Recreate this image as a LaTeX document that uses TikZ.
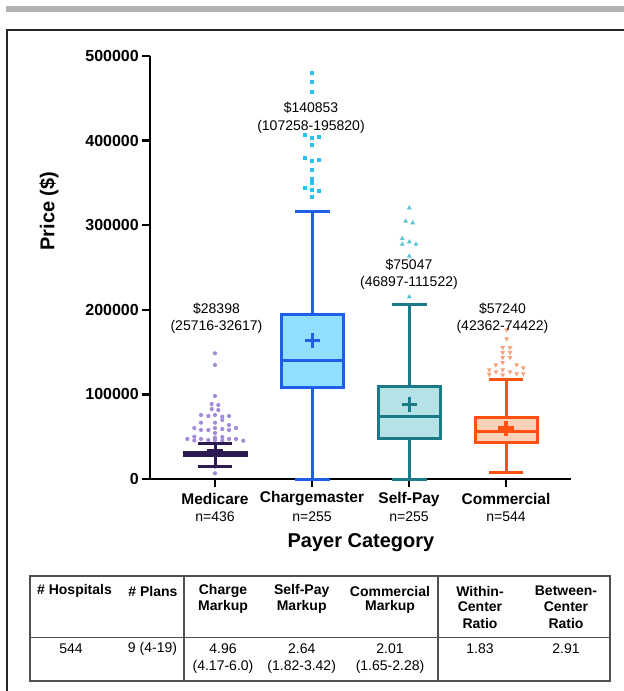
\documentclass[tikz,border=0pt]{standalone}
\usepackage{fontspec}
\setmainfont{Liberation Sans}
\definecolor{medi}{HTML}{2E1A52}
\definecolor{medidot}{HTML}{A38BD8}
\definecolor{cmline}{HTML}{1F5FE8}
\definecolor{cmfill}{HTML}{8FE0FF}
\definecolor{cmdot}{HTML}{29C0F5}
\definecolor{spline}{HTML}{1B7A88}
\definecolor{spfill}{HTML}{B5E2E6}
\definecolor{spdot}{HTML}{5BC3CF}
\definecolor{coline}{HTML}{FF5212}
\definecolor{cofill}{HTML}{FDD0B8}
\definecolor{codot}{HTML}{F9A07C}
\definecolor{tabline}{HTML}{505050}
\begin{document}
\begin{tikzpicture}[x=1pt,y=-1pt,
  ticklab/.style={font=\bfseries\fontsize{16}{19}\selectfont, anchor=east, inner sep=0},
  catlab/.style={font=\bfseries\fontsize{15.5}{18}\selectfont, inner sep=0},
  nlab/.style={font=\fontsize{14}{16}\selectfont, inner sep=0},
  annot/.style={font=\fontsize{14}{16}\selectfont, inner sep=0},
  axlab/.style={font=\bfseries\fontsize{20}{24}\selectfont, inner sep=0},
  th/.style={font=\bfseries\fontsize{14}{16}\selectfont, inner sep=0},
  td/.style={font=\fontsize{14}{16}\selectfont, inner sep=0},
  bx/.style={line width=3pt},
]
\useasboundingbox (0,0) rectangle (624,691);
% top gray bar and frame
\fill[black!30] (6,6) rectangle (624,12);
\draw[line width=2pt, black!85] (624,30) -- (7,30) -- (7,691);

% axes
\draw[line width=2.5pt] (150,56) -- (150,479) -- (571,479);
\foreach \v/\yy in {0/479, 100000/394.4, 200000/309.8, 300000/225.2, 400000/140.6, 500000/56}{
  \draw[line width=2.5pt] (142,\yy) -- (150,\yy);
  \node[ticklab] (t\v) at (139,\yy) {\v};
}
\foreach \xx in {215,312,409,506}{
  \draw[line width=2.5pt] (\xx,479) -- (\xx,487);
}
\node[axlab, rotate=90] (ylab) at (49,211) {Price (\$)};
\node[axlab] (xlab) at (361,543) {Payer Category};

\node[catlab] (c1) at (215,499) {Medicare};
\node[catlab] (c2) at (312,499) {Chargemaster};
\node[catlab] (c3) at (409,499) {Self-Pay};
\node[catlab] (c4) at (506,499) {Commercial};
\node[nlab] (n1) at (215,517) {n=436};
\node[nlab] (n2) at (312,517) {n=255};
\node[nlab] (n3) at (409,517) {n=255};
\node[nlab] (n4) at (506,517) {n=544};

% Medicare
\foreach \px/\py in {215/353.3,215/365,215/396,211.7/404,218.3/405,211.7/409,218.3/410,
  201/415,208.3/416,215/415,222.3/416.7,229/416,222.3/420,201/422.7,215/422.7,229/425,
  194.3/428,201/430,208.3/430,215/428,222.3/429,229/430,236/428,215/433,194.3/436.7,215/437.7,222.3/437,
  187.3/439,201/439,208.3/440,215/440,229/439,236/439,243.3/440.7,194.3/440.5,222.3/440.5,215/466.7,215/473.3}{
  \fill[medidot] (\px,\py) circle (2.1);
}
\draw[medi, line width=3pt] (215,443) -- (215,466);
\draw[medi, line width=3pt] (198,443) -- (232,443);
\draw[medi, line width=3pt] (198,466) -- (232,466);
\fill[medi] (182.5,451.4) rectangle (247.5,457.2);
\draw[medi, line width=3pt] (207,450) -- (223,450);

% Chargemaster
\foreach \px/\py in {312.3/73.3,312.3/81.7,312.3/92.3,305/135,312.3/138.3,319.3/136.7,312.3/145,
  305/157.7,312.3/161,319.3/160,312.3/170,312.3/179,312.3/183.3,305/188.3,312.3/190,319.3/191,312.3/196.7}{
  \fill[cmdot] (\px-2,\py-2) rectangle (\px+2,\py+2);
}
\draw[cmline, bx] (312,211) -- (312,314);
\draw[cmline, bx] (312,387) -- (312,479);
\draw[cmline, bx] (295,211) -- (330,211);
\draw[cmline, bx] (295,479) -- (330,479);
\draw[cmline, fill=cmfill, bx] (281,314) rectangle (343,387);
\draw[cmline, bx] (281,360) -- (343,360);
\draw[cmline, bx] (304.5,340) -- (319.5,340) (312,332.5) -- (312,347.5);

% Self-Pay
\foreach \px/\py in {409.3/207.7,405.7/221,412.7/222.7,402.3/238.3,409.3/241.7,416/244,402.3/244,409.3/256,409.3/296.7}{
  \fill[spdot] (\px,\py-2.6) -- (\px+2.4,\py+1.6) -- (\px-2.4,\py+1.6) -- cycle;
}
\draw[spline, bx] (409,304) -- (409,386);
\draw[spline, bx] (409,438) -- (409,479);
\draw[spline, bx] (392,304) -- (427,304);
\draw[spline, bx] (392,479) -- (427,479);
\draw[spline, fill=spfill, bx] (378,386) rectangle (440,438);
\draw[spline, bx] (378,416) -- (440,416);
\draw[spline, bx] (401.5,404) -- (416.5,404) (409,396.5) -- (409,411.5);

% Commercial
\foreach \px/\py in {506.7/330,506.7/339,502.7/347.7,510/347.7,502.7/352.7,510/352.7,502.7/357.7,510/357.7,
  502.7/362.7,495.7/365,516.7/365,489.3/370,496/372,502.7/370,510/372,516.7/374,523.3/368,523.3/374,489.3/374.5,502.7/375}{
  \fill[codot] (\px,\py+2.6) -- (\px+2.4,\py-1.6) -- (\px-2.4,\py-1.6) -- cycle;
}
\draw[coline, bx] (506,379) -- (506,417);
\draw[coline, bx] (506,442) -- (506,472);
\draw[coline, bx] (489,379) -- (523,379);
\draw[coline, bx] (489,472) -- (523,472);
\draw[coline, fill=cofill, bx] (475,417) rectangle (537,442);
\draw[coline, bx] (475,431) -- (537,431);
\draw[coline, line width=4pt] (498,428) -- (514,428) (506,420.5) -- (506,435.5);

% annotations
\node[annot] (a1) at (216.5,309) {\$28398};
\node[annot] (a1b) at (216.5,327) {(25716-32617)};
\node[annot] (a2) at (311,108) {\$140853};
\node[annot] (a2b) at (311,127) {(107258-195820)};
\node[annot] (a3) at (409,265) {\$75047};
\node[annot] (a3b) at (409,283) {(46897-111522)};
\node[annot] (a4) at (502.5,309) {\$57240};
\node[annot] (a4b) at (502.5,327) {(42362-74422)};

% table
\draw[tabline, line width=1.5pt] (30,576) rectangle (610,681);
\draw[tabline, line width=1.5pt] (30,637.3) -- (610,637.3);
\draw[tabline, line width=1.5pt] (184,576) -- (184,681);
\draw[tabline, line width=1.5pt] (438,576) -- (438,681);

\node[th] (h1) at (74.5,591) {\# Hospitals};
\node[th] (h2) at (153,591) {\# Plans};
\node[th] (h3a) at (223,591) {Charge};
\node[th] (h3b) at (223,607) {Markup};
\node[th] (h4a) at (301.7,591) {Self-Pay};
\node[th] (h4b) at (301.7,607) {Markup};
\node[th] (h5a) at (390,591) {Commercial};
\node[th] (h5b) at (390,607) {Markup};
\node[th] (h6a) at (480,591) {Within-};
\node[th] (h6b) at (480,607) {Center};
\node[th] (h6c) at (480,623) {Ratio};
\node[th] (h7a) at (566,591) {Between-};
\node[th] (h7b) at (566,607) {Center};
\node[th] (h7c) at (566,623) {Ratio};

\node[td] (d1) at (71,649) {544};
\node[td] (d2) at (152.5,649) {9 (4-19)};
\node[td] (d3a) at (223,649) {4.96};
\node[td] (d3b) at (223,667) {(4.17-6.0)};
\node[td] (d4a) at (301.7,649) {2.64};
\node[td] (d4b) at (301.7,667) {(1.82-3.42)};
\node[td] (d5a) at (390,649) {2.01};
\node[td] (d5b) at (390,667) {(1.65-2.28)};
\node[td] (d6) at (480,649) {1.83};
\node[td] (d7) at (566,649) {2.91};
\end{tikzpicture}
\end{document}
